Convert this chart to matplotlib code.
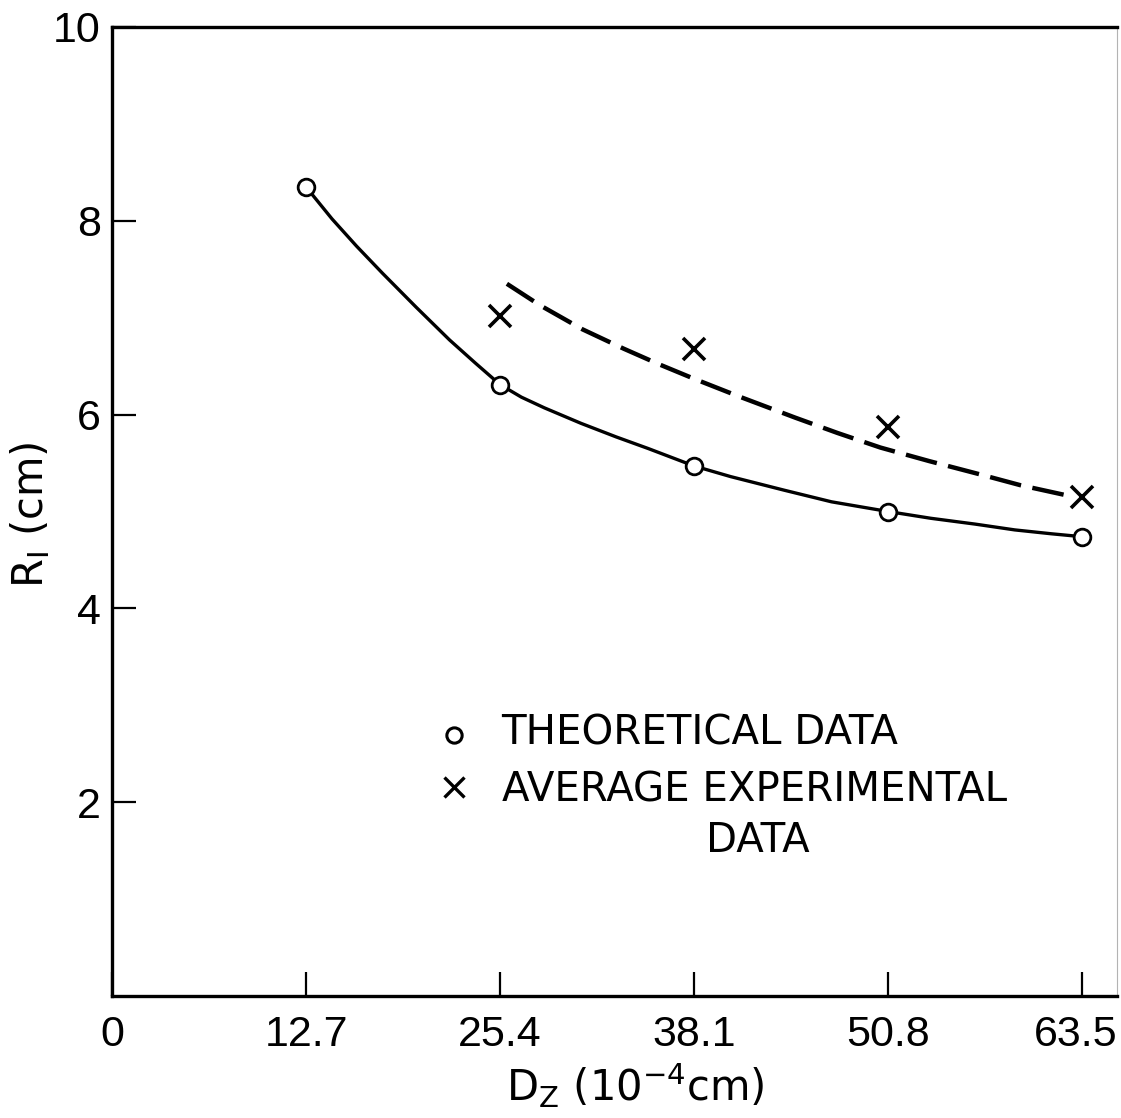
import matplotlib
matplotlib.use('Agg')
import matplotlib.pyplot as plt
from matplotlib.transforms import ScaledTranslation

# values
dz_ticks = [0, 12.7, 25.4, 38.1, 50.8, 63.5]
dz_tick_labels = ['0', '12.7', '25.4', '38.1', '50.8', '63.5']
r_ticks = [2, 4, 6, 8, 10]

# theoretical data (circles)
theo_dz = [12.7, 25.4, 38.1, 50.8, 63.5]
theo_r = [8.35, 6.31, 5.47, 5.00, 4.74]

# average experimental data (crosses)
exp_dz = [25.4, 38.1, 50.8, 63.5]
exp_r = [7.02, 6.68, 5.87, 5.15]

# hand-drawn solid curve through the theoretical points
curve_dz = [12.7, 14.4, 16.0, 17.7, 19.9, 22.1, 23.8, 25.4, 26.8, 28.3, 30.7,
            33.0, 35.1, 38.1, 40.5, 44.0, 47.1, 50.8, 53.6, 56.5, 59.1, 61.5,
            63.5]
curve_r = [8.35, 8.02, 7.74, 7.46, 7.11, 6.77, 6.53, 6.31, 6.18, 6.07, 5.91,
           5.77, 5.65, 5.47, 5.36, 5.22, 5.10, 5.00, 4.93, 4.87, 4.81, 4.77,
           4.74]

# dashed curve drawn near the experimental points
dash_dz = [25.85, 28.0, 30.8, 33.5, 35.8, 38.1, 41.0, 44.7, 47.5, 50.3, 53.5,
           56.9, 59.5, 62.4]
dash_r = [7.35, 7.13, 6.88, 6.68, 6.52, 6.37, 6.19, 5.97, 5.81, 5.66, 5.52,
          5.38, 5.27, 5.17]

num_font = ['Liberation Sans', 'DejaVu Sans']
txt_font = ['DejaVu Sans']

fig = plt.figure(figsize=(11.21, 11.18), dpi=100)
ax = fig.add_axes([112/1121, 1 - 996/1118, (1117 - 112)/1121, (996 - 27)/1118])

ax.plot(curve_dz, curve_r, color='black', lw=2.4, zorder=2)
ax.plot(dash_dz, dash_r, color='black', lw=3.2, linestyle=(0, (7.2, 2.6)),
        zorder=2)
ax.plot(theo_dz, theo_r, linestyle='none', marker='o', ms=12,
        mfc='white', mec='black', mew=2.0, zorder=3)
ax.plot(exp_dz, exp_r, linestyle='none', marker='x', ms=16,
        mec='black', mew=2.6, zorder=3)

ax.set_xlim(0, 65.79)
ax.set_ylim(0, 10)
ax.set_xticks(dz_ticks)
ax.set_xticklabels(dz_tick_labels)
ax.set_yticks(r_ticks)
ax.tick_params(direction='in', length=17, width=1.6, color='black')
ax.tick_params(axis='x', pad=14)
ax.tick_params(axis='y', pad=8)
for lab in ax.get_xticklabels() + ax.get_yticklabels():
    lab.set_family(num_font)
    lab.set_fontsize(31)
# keep the last x label inside the picture
last = ax.get_xticklabels()[-1]
last.set_transform(last.get_transform() + ScaledTranslation(-6/100, 0, fig.dpi_scale_trans))

for side in ['left', 'bottom', 'top']:
    ax.spines[side].set_linewidth(2.4)
ax.spines['right'].set_linewidth(0.8)
ax.spines['right'].set_color('0.7')

# axis titles
fig.text(635/1121, 1 - 1086/1118, r'D$_\mathregular{Z}$ (10$^\mathregular{-4}$cm)',
         ha='center', va='center', fontsize=30, family=txt_font)
fig.text(30/1121, 1 - 515/1118, r'R$_\mathregular{I}$ (cm)', rotation=90,
         ha='center', va='center', fontsize=30, family=txt_font)

# key drawn inside the plot
ax.plot([0.340], [0.2696], transform=ax.transAxes, marker='o', ms=11,
        mfc='white', mec='black', mew=2.2, linestyle='none')
ax.plot([0.340], [0.216], transform=ax.transAxes, marker='x', ms=14,
        mec='black', mew=2.4, linestyle='none')
ax.text(0.387, 0.2593, 'THEORETICAL DATA', transform=ax.transAxes,
        ha='left', va='baseline', fontsize=29, family=txt_font)
ax.text(0.388, 0.2004, 'AVERAGE EXPERIMENTAL', transform=ax.transAxes,
        ha='left', va='baseline', fontsize=29, family=txt_font)
ax.text(0.643, 0.1488, 'DATA', transform=ax.transAxes,
        ha='center', va='baseline', fontsize=29, family=txt_font)

fig.savefig('out.png', dpi=100, facecolor='white')
